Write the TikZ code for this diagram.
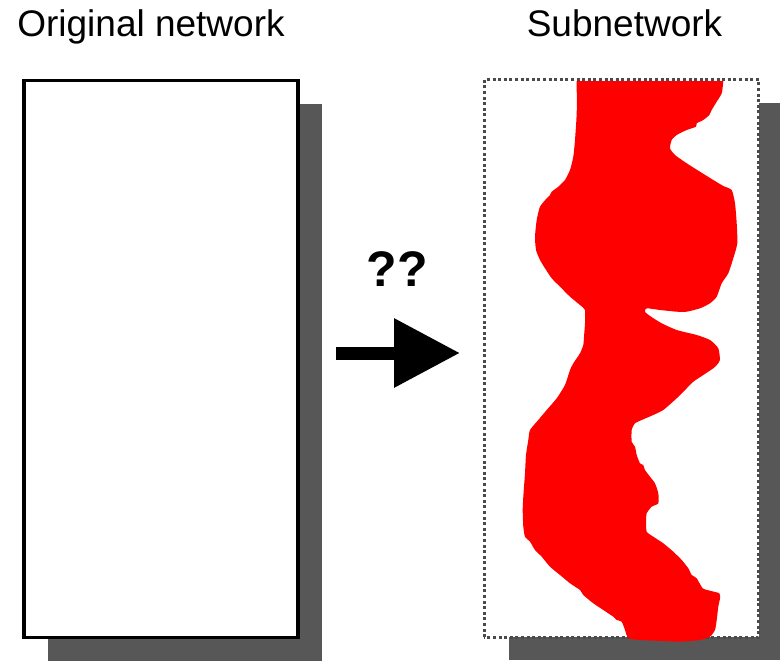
\documentclass[tikz,border=0pt]{standalone}
\usepackage{fontspec}
\setmainfont{Liberation Sans}
\usetikzlibrary{arrows.meta,shadows}
\definecolor{shadowgray}{HTML}{575757}
\definecolor{borderdots}{HTML}{4A4A4A}
\definecolor{subred}{HTML}{FF0000}
\tikzset{
  title/.style={font=\fontsize{37}{40}\selectfont, anchor=base, inner sep=0pt},
  netbox/.style={rectangle, minimum width=274pt, minimum height=557pt, inner sep=0pt,
    fill=white, drop shadow={shadow xshift=24pt, shadow yshift=-23pt, fill=shadowgray, opacity=1}},
  solidframe/.style={draw=black, line width=3.2pt},
  dottedframe/.style={draw=borderdots, line width=3pt, line cap=butt, dash pattern=on 3pt off 2.6pt},
  bigarrow/.style={line width=13pt, -{Triangle[length=66pt,width=66pt]}},
  region/.style={fill=subred}
}
\begin{document}
\begin{tikzpicture}[x=1pt,y=-1pt]
\useasboundingbox (0,0) rectangle (780,664);

% headings
\node[title] (t1) at (151,36.5) {Original network};
\node[title] (t2) at (624.5,36.5) {Subnetwork};

% the two network panels
\node[netbox, solidframe] (orig) at (161,359) {};
\node[netbox] (sub) at (621.5,358.5) {};
\draw[dottedframe] (sub.south west) rectangle (sub.north east);

% extracted subnetwork region, cut flat at the top of the panel
\begin{scope}
\clip (480,81) rectangle (780,664);
\fill[region] plot[smooth cycle, tension=0.35] coordinates {
 (723.3,70) (723.3,81) (721.7,93.3) (716.7,101.7) (711.7,110) (709.3,115) (703.3,120)
 (696.7,123.3) (696,126.7) (686.7,130) (676.7,135) (671.7,140) (670,148.3) (675,155)
 (686.7,163.3) (700,171.7) (713.3,180) (723.3,186) (731.7,190) (735,203.3) (736.7,223.3)
 (737.3,243.3) (733.3,258.3) (728.3,273.3) (721.7,283.3) (716.7,296.7) (710,303.3)
 (700,308.3) (686.7,311.7) (676.7,311.7) (660,310) (646.7,308.3) (645,311.7) (650,316)
 (661.7,323.3) (676.7,330) (696.7,335) (710,340) (718.3,348.3) (720,360) (718.3,363.3)
 (713.3,368.3) (703.3,375) (693.3,381.7) (686.7,388.3) (676.7,398.3) (663.3,410)
 (653.3,415) (643.3,419.3) (635,423.3) (631.7,430) (631.7,441.7) (635,446.7) (636.7,455)
 (640,463.3) (643.3,465) (645,470) (650,476.7) (655,483.3) (658.3,493.3) (658.3,503.3)
 (651.7,506.7) (646.7,513.3) (646,521.7) (646.7,531.7) (653.3,536.7) (663.3,543.3)
 (673.3,551.7) (681.7,560) (688.3,568.3) (691.7,575) (696.7,578.3) (702.7,588.3)
 (710,590.7) (719.3,593.3) (720,598.3) (718.3,606.7) (716.7,620) (715,630) (710,636.7)
 (700,640) (680,641.7) (663.3,641) (640,640) (628.3,638.3) (625,630) (621.7,621.7)
 (616.7,620) (613.3,616.7) (608.3,613.3) (593.3,603.3) (583.3,595) (580,590) (570,583.3)
 (560,575) (550,566.7) (541.7,556.7) (535,550) (530,541.7) (525,536.7) (523.3,526.7)
 (522.7,510) (523.3,496.7) (525,473.3) (526,455) (528.3,440) (530,430) (538.3,420)
 (546.7,410) (556.7,398.3) (565,385) (570,370) (573.3,363.3) (580,353.3) (583.3,345)
 (584,336.7) (585,323.3) (585,310) (580,305) (570,296.7) (560,286.7) (551.7,278.3)
 (545,268.3) (540,260) (536,250) (535,236.7) (536.7,220) (540,206.7) (546.7,198.3)
 (550,195) (551.7,191.7) (558.3,186.7) (565,180) (570,170) (573.3,156.7) (575,140)
 (576.7,113.3) (576.7,81) (576.7,70)
};
\end{scope}

% transformation arrow
\coordinate (arrS) at (336,353);
\coordinate (arrE) at (460,353);
\draw[bigarrow] (arrS) -- (arrE);
\node[font=\bfseries\fontsize{50}{54}\selectfont, inner sep=0pt] (q) at (397,269) {??};
\end{tikzpicture}
\end{document}
